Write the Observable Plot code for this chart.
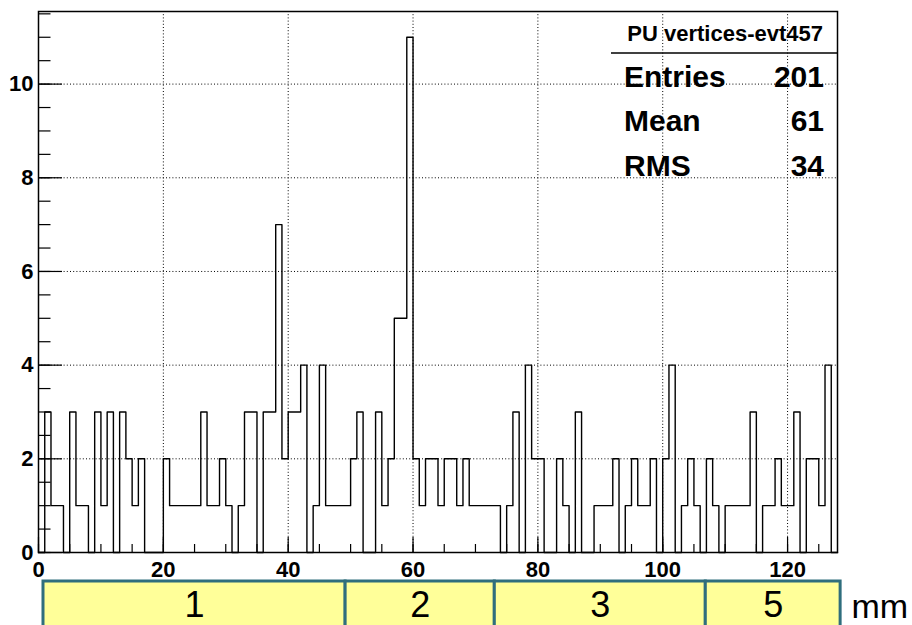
<!DOCTYPE html>
<html>
<head>
<meta charset="utf-8">
<script src="https://cdn.jsdelivr.net/npm/d3@7"></script>
<script src="https://cdn.jsdelivr.net/npm/@observablehq/plot@0.6"></script>
<style>
  body { margin: 0; background: #fff; }
  #chart svg { display: block; }
  #chart svg.strip { margin-top: -11px; }
</style>
</head>
<body>
<div id="chart"></div>
<script>
// Pile-up vertex positions along z, one count per 1-unit bin from 0 to 128
const counts = [
  0, 3, 1, 1, 0, 3, 1, 1, 0, 3,
  1, 3, 0, 3, 2, 1, 2, 0, 0, 0,
  2, 1, 1, 1, 1, 1, 3, 1, 1, 2,
  1, 0, 1, 3, 3, 0, 3, 3, 7, 2,
  3, 3, 4, 0, 1, 4, 1, 1, 1, 1,
  2, 3, 0, 0, 3, 1, 2, 5, 5, 11,
  2, 1, 2, 2, 1, 2, 2, 1, 2, 1,
  1, 1, 1, 1, 0, 1, 3, 0, 4, 2,
  2, 0, 0, 2, 1, 0, 3, 0, 0, 1,
  1, 1, 2, 0, 1, 2, 1, 1, 2, 0,
  2, 4, 0, 1, 2, 1, 0, 2, 1, 0,
  1, 1, 1, 1, 3, 0, 1, 1, 2, 1,
  1, 3, 0, 2, 2, 1, 4, 0
];
const histName = "PU vertices-evt457";
const statLabels = ["Entries", "Mean", "RMS"];
const xTicks = [0, 20, 40, 60, 80, 100, 120];
const yTicks = [0, 2, 4, 6, 8, 10];

// Detector segments drawn as a strip under the axis
const layerNames = ["1", "2", "3", "5"];
const layerEdges = [0.8, 49.2, 73.1, 106.9, 128.5];
const unitLabel = "mm";

// Layout
const W = 912, H = 590, mL = 38, mR = 75, mT = 11, mB = 38;
const plotW = W - mL - mR, plotH = H - mT - mB;
const axisFont = "'Liberation Sans', Arial, Helvetica, sans-serif";
const stripFont = "'Liberation Sans', Arial, sans-serif";

// Histogram statistics computed from bin centres
const N = d3.sum(counts);
const mean = d3.sum(counts, (c, i) => c * (i + 0.5)) / N;
const rms = Math.sqrt(d3.sum(counts, (c, i) => c * (i + 0.5 - mean) ** 2) / N);
const statValues = [N, Math.round(mean), Math.round(rms)];

// Outline of the histogram: step line, closed at the upper edge
const steps = counts.map((n, i) => ({x: i, n}))
  .concat([{x: counts.length, n: counts[counts.length - 1]}]);

const yMinor = d3.range(0, 11.55, 0.5);
const xMinor = d3.range(0, 128, 5);

function statsBox(index, scales, values, dims) {
  const right = dims.width - dims.marginRight;
  const top = dims.marginTop;
  const g = d3.create("svg:g")
    .attr("font-family", axisFont)
    .attr("font-weight", "bold")
    .attr("fill", "#000");
  g.append("line")
    .attr("x1", right - 226).attr("x2", right)
    .attr("y1", top + 42).attr("y2", top + 42)
    .attr("stroke", "#000").attr("stroke-width", 1.5);
  g.append("text")
    .attr("x", right - 14).attr("y", top + 30)
    .attr("text-anchor", "end").attr("font-size", 22)
    .text(histName);
  statLabels.forEach((label, i) => {
    const y = top + 76 + i * 44.3;
    g.append("text").attr("x", right - 213).attr("y", y)
      .attr("text-anchor", "start").attr("font-size", 30).text(label);
    g.append("text").attr("x", right - 13).attr("y", y)
      .attr("text-anchor", "end").attr("font-size", 30).text(statValues[i]);
  });
  return g.node();
}

const main = Plot.plot({
  width: W, height: H,
  marginLeft: mL, marginRight: mR, marginTop: mT, marginBottom: mB,
  style: {fontFamily: axisFont, fontSize: "22px", fontWeight: "bold", color: "#000", background: "#fff"},
  x: {domain: [0, 128], ticks: xTicks, tickSize: 0, tickPadding: 9, label: null},
  y: {domain: [0, 11.55], ticks: yTicks, tickSize: 0, tickPadding: 5, label: null},
  marks: [
    // dotted grid at the labelled ticks
    Plot.ruleX(xTicks.filter(v => v > 0), {stroke: "#000", strokeWidth: 1, strokeDasharray: "1,2.2"}),
    Plot.ruleY(yTicks.filter(v => v > 0), {stroke: "#000", strokeWidth: 1, strokeDasharray: "1,2.2"}),
    // inward tick marks
    Plot.ruleY(yMinor, {stroke: "#000", strokeWidth: 1.2, insetRight: plotW - 12.5}),
    Plot.ruleY(yTicks, {stroke: "#000", strokeWidth: 1.2, insetRight: plotW - 24}),
    Plot.ruleX(xMinor, {stroke: "#000", strokeWidth: 1.2, insetTop: plotH - 8}),
    Plot.ruleX(xTicks, {stroke: "#000", strokeWidth: 1.2, insetTop: plotH - 15}),
    Plot.line(steps, {x: "x", y: "n", curve: "step-after", stroke: "#000", strokeWidth: 1.4}),
    Plot.frame({stroke: "#000", strokeWidth: 1.5}),
    statsBox
  ]
});

const layers = layerNames.map((name, i) => ({name, x1: layerEdges[i], x2: layerEdges[i + 1]}));

const strip = Plot.plot({
  className: "strip",
  width: W, height: 46,
  marginLeft: mL, marginRight: mR, marginTop: 2, marginBottom: 0,
  style: {fontFamily: stripFont, background: "none", overflow: "visible"},
  x: {domain: [0, 128], axis: null},
  marks: [
    Plot.rect(layers, {x1: "x1", x2: "x2", fill: "#ffff99", stroke: "#2f6e7d", strokeWidth: 3, insetBottom: -8}),
    Plot.text(layers, {x: d => (d.x1 + d.x2) / 2, text: "name", frameAnchor: "middle",
      fontSize: 36, fontFamily: stripFont, fill: "#000", dy: 2}),
    Plot.text([unitLabel], {text: d => d, frameAnchor: "right", textAnchor: "start", dx: 14, dy: 4,
      fontSize: 34, fontFamily: stripFont, fill: "#000"})
  ]
});
strip.classList.add("strip");

const chart = document.getElementById("chart");
chart.append(main, strip);
</script>
</body>
</html>
